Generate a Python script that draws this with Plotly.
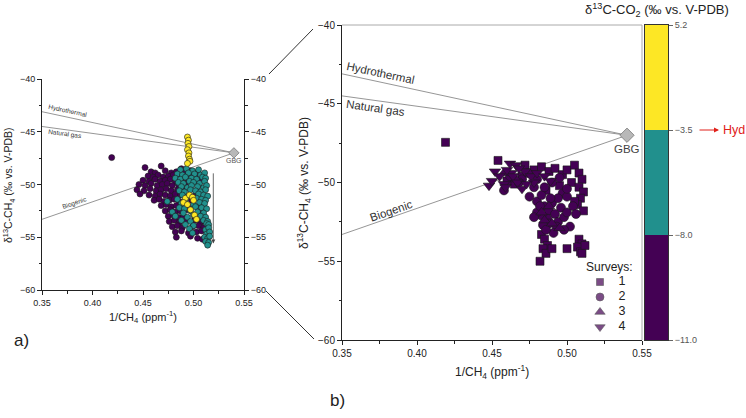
import plotly.graph_objects as go

W, H = 746, 418
FONT = "Arial, Liberation Sans, sans-serif"

# ---------------- data ----------------
# mixing lines (1/CH4, d13C-CH4) ending at the GBG background point
gbg_x = [0.54]
gbg_y = [-47.0]
hydro_x = [0.35, 0.54]
hydro_y = [-43.1, -47.0]
natgas_x = [0.35, 0.54]
natgas_y = [-44.5, -47.0]
biog_x = [0.35, 0.54]
biog_y = [-53.3, -47.0]
line_labels = ["Hydrothermal", "Natural gas", "Biogenic"]
label_x = [0.3755, 0.3725, 0.3825]
label_y = [-43.05, -45.25, -51.8]
label_angle = [12, 8, -19]

# panel a) points coloured by d13C-CO2 class
a_purple_x = [0.419, 0.452, 0.468, 0.488,
              0.458, 0.462, 0.472, 0.478, 0.483, 0.491, 0.497, 0.503,
              0.455, 0.460, 0.465, 0.470, 0.475, 0.480, 0.486, 0.493, 0.499, 0.505, 0.508,
              0.450, 0.456, 0.462, 0.467, 0.472, 0.477, 0.482, 0.488, 0.495, 0.502, 0.507,
              0.446, 0.452, 0.458, 0.464, 0.469, 0.474, 0.479, 0.485, 0.492, 0.505,
              0.444, 0.451, 0.457, 0.463, 0.468, 0.473, 0.478, 0.484, 0.489, 0.503,
              0.447, 0.456, 0.462, 0.467, 0.472, 0.477, 0.482, 0.487, 0.501,
              0.461, 0.466, 0.471, 0.476, 0.481, 0.486, 0.498,
              0.468, 0.473, 0.478, 0.483, 0.488, 0.496, 0.506,
              0.472, 0.477, 0.482, 0.487, 0.494, 0.505, 0.509,
              0.475, 0.480, 0.485, 0.490, 0.503, 0.508,
              0.476, 0.481, 0.486, 0.492, 0.501, 0.507, 0.511,
              0.479, 0.484, 0.489, 0.499, 0.505, 0.510,
              0.482, 0.488, 0.495, 0.503, 0.508,
              0.483, 0.497, 0.504, 0.509]
a_purple_y = [-47.45, -48.4, -48.25, -48.5,
              -48.8, -48.9, -48.7, -48.9, -48.8, -48.9, -48.7, -48.9,
              -49.2, -49.3, -49.1, -49.3, -49.2, -49.1, -49.3, -49.2, -49.1, -49.3, -49.2,
              -49.6, -49.7, -49.5, -49.7, -49.6, -49.5, -49.7, -49.6, -49.5, -49.7, -49.6,
              -50.0, -50.1, -49.9, -50.1, -50.0, -49.9, -50.1, -50.0, -49.9, -50.1,
              -50.5, -50.6, -50.4, -50.6, -50.5, -50.4, -50.6, -50.5, -50.4, -50.6,
              -50.9, -51.0, -51.1, -50.9, -51.0, -51.1, -50.9, -51.0, -51.1,
              -51.5, -51.4, -51.6, -51.5, -51.4, -51.6, -51.5,
              -52.0, -51.9, -52.1, -52.0, -51.9, -52.1, -52.0,
              -52.5, -52.4, -52.6, -52.5, -52.4, -52.6, -52.5,
              -53.0, -52.9, -53.1, -53.0, -52.9, -53.1,
              -53.5, -53.4, -53.6, -53.5, -53.4, -53.6, -53.5,
              -54.0, -53.9, -54.1, -54.0, -53.9, -54.1,
              -54.5, -54.4, -54.6, -54.5, -54.4,
              -55.0, -54.9, -55.1, -55.2]
a_teal_x = [0.487, 0.493, 0.499, 0.505,
            0.484, 0.489, 0.495, 0.501, 0.507, 0.511,
            0.482, 0.487, 0.492, 0.498, 0.503, 0.509, 0.512,
            0.485, 0.490, 0.496, 0.500, 0.506, 0.511,
            0.488, 0.494, 0.498, 0.504, 0.510, 0.513,
            0.486, 0.491, 0.497, 0.502, 0.507, 0.512,
            0.489, 0.495, 0.505, 0.510, 0.514,
            0.474, 0.484, 0.492, 0.503, 0.508, 0.512,
            0.488, 0.500, 0.506, 0.511,
            0.486, 0.491, 0.502, 0.508, 0.513,
            0.479, 0.490, 0.497, 0.504, 0.510,
            0.482, 0.494, 0.500, 0.507, 0.512,
            0.488, 0.497, 0.503, 0.510, 0.514,
            0.492, 0.500, 0.513, 0.515,
            0.496, 0.512, 0.515,
            0.499, 0.513, 0.516,
            0.511, 0.514, 0.516,
            0.512, 0.515, 0.514]
a_teal_y = [-48.6, -48.5, -48.7, -48.6,
            -49.0, -49.1, -48.9, -49.0, -49.1, -48.9,
            -49.4, -49.5, -49.3, -49.4, -49.5, -49.3, -49.4,
            -49.8, -49.9, -49.7, -49.8, -49.9, -49.7,
            -50.2, -50.3, -50.1, -50.2, -50.3, -50.1,
            -50.6, -50.7, -50.5, -50.6, -50.7, -50.5,
            -51.0, -51.1, -50.9, -51.0, -51.1,
            -51.6, -51.4, -51.5, -51.3, -51.4, -51.5,
            -51.8, -51.9, -51.7, -51.8,
            -52.2, -52.3, -52.1, -52.2, -52.3,
            -52.6, -52.7, -52.5, -52.6, -52.7,
            -53.0, -53.1, -52.9, -53.0, -53.1,
            -53.4, -53.5, -53.3, -53.4, -53.5,
            -53.8, -53.9, -53.7, -53.8,
            -54.2, -54.3, -54.1,
            -54.6, -54.7, -54.5,
            -55.0, -55.1, -54.9,
            -55.4, -55.5, -55.75]
a_yellow_x = [0.494, 0.495, 0.4945, 0.4955, 0.494, 0.4955, 0.495, 0.496, 0.4965, 0.494,
              0.492, 0.496, 0.499, 0.490, 0.494, 0.497, 0.501, 0.503, 0.500]
a_yellow_y = [-45.5, -45.8, -46.1, -46.4, -46.7, -47.0, -47.3, -47.6, -47.8, -48.0,
              -51.3, -51.0, -51.2, -51.7, -51.9, -52.4, -52.9, -53.3, -51.5]
arrow_x = [0.5196, 0.5196]
arrow_y = [-48.8, -55.6]

# panel b) points by survey
s1_x = [0.419, 0.454, 0.472, 0.478, 0.483, 0.488, 0.492, 0.497, 0.500, 0.505, 0.508, 0.510,
        0.503, 0.495, 0.486, 0.465, 0.470, 0.460, 0.508, 0.511, 0.509, 0.507, 0.511, 0.505,
        0.483, 0.485, 0.487, 0.484, 0.486, 0.482, 0.490, 0.500, 0.508, 0.510, 0.507, 0.509,
        0.512, 0.510]
s1_y = [-47.45, -48.6, -48.9, -49.2, -49.0, -49.3, -49.1, -49.5, -49.2, -48.9, -49.4, -49.8,
        -50.0, -50.2, -50.5, -50.1, -49.6, -49.9, -50.3, -50.6, -51.0, -51.4, -51.8, -51.2,
        -53.3, -53.6, -54.0, -54.2, -54.5, -55.0, -54.2, -54.2, -53.6, -53.9, -54.1, -54.4,
        -54.0, -54.5]
s2_x = [0.458, 0.475, 0.480, 0.483, 0.485, 0.488, 0.490, 0.492, 0.487, 0.483, 0.480, 0.478,
        0.494, 0.496, 0.498, 0.500, 0.502, 0.498, 0.493, 0.488, 0.484, 0.491, 0.497, 0.500,
        0.504, 0.506, 0.485, 0.490, 0.478, 0.470, 0.462, 0.468, 0.474, 0.480, 0.495, 0.500,
        0.494, 0.489, 0.482, 0.486]
s2_y = [-50.5, -50.9, -51.2, -50.8, -51.5, -51.8, -51.3, -52.0, -52.3, -52.1, -51.9, -52.2,
        -52.5, -51.6, -52.2, -51.9, -52.8, -53.0, -52.8, -52.6, -52.7, -53.2, -50.7, -50.9,
        -51.5, -52.0, -50.3, -50.0, -50.3, -49.8, -49.6, -50.0, -49.4, -49.8, -49.7, -50.4,
        -51.0, -51.0, -51.5, -53.0]
s3_x = [0.485, 0.490, 0.488, 0.495, 0.458, 0.466, 0.483]
s3_y = [-52.4, -52.6, -51.5, -52.9, -49.4, -49.8, -51.9]
s4_x = [0.448, 0.450, 0.452, 0.458, 0.459, 0.463, 0.464, 0.467, 0.470, 0.455, 0.460, 0.462,
        0.466, 0.472, 0.476, 0.478, 0.473, 0.468, 0.480, 0.485, 0.489]
s4_y = [-50.2, -49.9, -49.3, -50.1, -50.3, -49.4, -49.6, -50.0, -50.4, -49.6, -49.2, -48.8,
        -48.9, -49.3, -49.6, -50.0, -50.1, -49.1, -49.4, -49.6, -49.9]
survey_names = ["1", "2", "3", "4"]
survey_symbols = ["square", "circle", "triangle-up", "triangle-down"]
survey_sizes = [8, 9, 10, 10]

# colour bar classes for d13C-CO2
co2_bounds = [-11.0, -8.0, -3.5, 5.2]
co2_colors = ["#440154", "#21908d", "#fde725"]

# ---------------- helpers ----------------
def px(x):
    return x / W

def py(y):
    return 1 - y / H

PURPLE, TEAL, YELLOW = co2_colors
EDGE = "#1a1a1a"
LINEC = "#8a8a8a"

fig = go.Figure()

# mixing lines in both panels
for xa, ya in (("x", "y"), ("x2", "y3")):
    for lx, ly in ((hydro_x, hydro_y), (natgas_x, natgas_y), (biog_x, biog_y)):
        fig.add_trace(go.Scatter(x=lx, y=ly, mode="lines", xaxis=xa, yaxis=ya,
                                 line=dict(color=LINEC, width=0.9), showlegend=False,
                                 hoverinfo="skip"))

# panel a) points
for xs, ys, c in ((a_purple_x, a_purple_y, PURPLE), (a_teal_x, a_teal_y, TEAL),
                  (a_yellow_x, a_yellow_y, YELLOW)):
    fig.add_trace(go.Scatter(x=xs, y=ys, mode="markers", xaxis="x", yaxis="y",
                             marker=dict(color=c, size=6, line=dict(color=EDGE, width=0.6)),
                             showlegend=False))
fig.add_trace(go.Scatter(x=gbg_x, y=gbg_y, mode="markers", xaxis="x", yaxis="y2",
                         marker=dict(symbol="diamond", color="#b8b8b8", size=8,
                                     line=dict(color="#777", width=0.8)),
                         showlegend=False))

# panel b) points
for xs, ys, name, sym, sz in zip((s1_x, s2_x, s3_x, s4_x), (s1_y, s2_y, s3_y, s4_y),
                                 survey_names, survey_symbols, survey_sizes):
    fig.add_trace(go.Scatter(x=xs, y=ys, mode="markers", xaxis="x2", yaxis="y3", name=name,
                             showlegend=False,
                             marker=dict(symbol=sym, color=PURPLE, size=sz,
                                         line=dict(color=EDGE, width=0.6))))
fig.add_trace(go.Scatter(x=gbg_x, y=gbg_y, mode="markers", xaxis="x2", yaxis="y3",
                         marker=dict(symbol="diamond", color="#b8b8b8", size=11,
                                     line=dict(color="#777", width=0.8)),
                         showlegend=False))

# survey key (legend) on its own hidden axes
n_s = len(survey_names)
fig.add_trace(go.Scatter(x=[0] * n_s, y=list(range(n_s)), mode="markers", xaxis="x4", yaxis="y5",
                         marker=dict(symbol=survey_symbols, color=PURPLE,
                                     size=[s - 1 for s in survey_sizes],
                                     line=dict(color=EDGE, width=0.6)),
                         showlegend=False, hoverinfo="skip"))
fig.add_trace(go.Scatter(x=[1] * n_s, y=list(range(n_s)), mode="text", xaxis="x4", yaxis="y5",
                         text=survey_names, textposition="middle center",
                         textfont=dict(family=FONT, size=12.5, color="#222"),
                         showlegend=False, hoverinfo="skip"))

# colour bar as a heatmap on its own axes
fig.add_trace(go.Heatmap(x=[0], y=list(range(len(co2_colors))),
                         z=[[i] for i in range(len(co2_colors))],
                         xaxis="x3", yaxis="y4", zmin=0, zmax=len(co2_colors) - 1,
                         colorscale=[[0, PURPLE], [0.333, PURPLE], [0.334, TEAL], [0.666, TEAL],
                                     [0.667, YELLOW], [1, YELLOW]],
                         showscale=False, hoverinfo="skip"))

a_dom_x = [px(42), px(244)]
a_dom_y = [py(290), py(79)]
b_dom_x = [px(342), px(642)]
b_dom_y = [py(340), py(25)]

axc = "#222"
def xax(domain, anchor, fs):
    return dict(domain=domain, anchor=anchor, range=[0.35, 0.55], dtick=0.05, tickformat=".2f",
                showline=True, linecolor=axc, linewidth=1, ticks="outside", ticklen=4,
                tickcolor=axc, showgrid=False, zeroline=False, automargin=False,
                tickfont=dict(family=FONT, size=fs, color="#222"),
                minor=dict(ticks="outside", ticklen=2.5, dtick=0.025, tickcolor=axc))

def yax(domain, anchor, fs, **kw):
    d = dict(domain=domain, anchor=anchor, range=[-60, -40], dtick=5,
             showline=True, linecolor=axc, linewidth=1, ticks="outside", ticklen=4,
             tickcolor=axc, showgrid=False, zeroline=False, automargin=False,
             tickfont=dict(family=FONT, size=fs, color="#222"),
             minor=dict(ticks="outside", ticklen=2.5, dtick=2.5, tickcolor=axc))
    d.update(kw)
    return d

hidden = dict(visible=False, showgrid=False, zeroline=False, automargin=False)

fig.update_layout(
    width=W, height=H, margin=dict(l=0, r=0, t=0, b=0, autoexpand=False),
    paper_bgcolor="white", plot_bgcolor="rgba(0,0,0,0)",
    font=dict(family=FONT, color="#222"),
    showlegend=False,
    xaxis=xax(a_dom_x, "y", 9),
    yaxis=yax(a_dom_y, "x", 9),
    yaxis2=yax(a_dom_y, "x", 9, overlaying="y", side="right"),
    xaxis2=xax(b_dom_x, "y3", 10),
    yaxis3=yax(b_dom_y, "x2", 10),
    xaxis3=dict(domain=[px(645), px(668)], anchor="y4", showticklabels=False, ticks="",
                showline=True, mirror=True, linecolor="#333", linewidth=1, automargin=False,
                showgrid=False, zeroline=False, range=[-0.5, 0.5]),
    yaxis4=dict(domain=b_dom_y, anchor="x3", side="right", range=[-0.5, len(co2_colors) - 0.5],
                tickvals=[i - 0.5 for i in range(len(co2_bounds))],
                ticktext=[f"{v:.1f}".replace("-", "\u2212") for v in co2_bounds],
                ticks="outside", ticklen=4, tickcolor="#666", automargin=False,
                tickfont=dict(family=FONT, size=9, color="#555"),
                showline=True, mirror=True, linecolor="#333", linewidth=1,
                showgrid=False, zeroline=False),
    xaxis4=dict(domain=[px(590), px(632)], anchor="y5", range=[-0.4545, 1.4545], **hidden),
    yaxis5=dict(domain=[py(334.5), py(274.5)], anchor="x4", range=[n_s - 0.5, -0.5], **hidden),
)

shapes = [
    # main panel light frame (top / right)
    dict(type="line", xref="x2 domain", yref="y3 domain", x0=0, x1=1, y0=1, y1=1,
         line=dict(color="#aaaaaa", width=1)),
    dict(type="line", xref="x2 domain", yref="y3 domain", x0=1, x1=1, y0=0, y1=1,
         line=dict(color="#aaaaaa", width=1)),
    # zoom connectors
    dict(type="line", xref="paper", yref="paper", x0=px(269), y0=py(74), x1=px(313), y1=py(29),
         line=dict(color="#333", width=1)),
    dict(type="line", xref="paper", yref="paper", x0=px(266), y0=py(291), x1=px(314), y1=py(339),
         line=dict(color="#333", width=1)),
]

def A(**kw):
    kw.setdefault("xanchor", "center")
    kw.setdefault("yanchor", "middle")
    kw.setdefault("showarrow", False)
    return kw

ann = []
# line labels
for t, lx, ly, ang in zip(line_labels, label_x, label_y, label_angle):
    ann.append(A(x=lx, y=ly, xref="x", yref="y", text=t, textangle=ang,
                 font=dict(family=FONT, size=6.5, color="#333")))
    ann.append(A(x=lx, y=ly, xref="x2", yref="y3", text=t, textangle=ang,
                 font=dict(family=FONT, size=11.5, color="#333")))
ann.append(A(x=gbg_x[0], y=gbg_y[0] - 0.75, xref="x", yref="y", text="GBG",
             font=dict(family=FONT, size=7, color="#555")))
ann.append(A(x=gbg_x[0], y=gbg_y[0] - 0.85, xref="x2", yref="y3", text="GBG",
             font=dict(family=FONT, size=11.5, color="#444")))
# trend arrow panel a
ann.append(dict(x=arrow_x[1], y=arrow_y[1], ax=arrow_x[0], ay=arrow_y[0], xref="x", yref="y",
                axref="x", ayref="y", text="", showarrow=True, arrowhead=2, arrowsize=1,
                arrowwidth=0.8, arrowcolor="#444"))
# axis titles
ytitle = "\u03b4<sup>13</sup>C-CH<sub>4</sub> (\u2030 vs. V-PDB)"
xtitle = "1/CH<sub>4</sub> (ppm<sup>-1</sup>)"
ann.append(A(x=px(9), y=py(185), xref="paper", yref="paper", text=ytitle, textangle=-90,
             font=dict(family=FONT, size=10.5, color="#222")))
ann.append(A(x=px(143), y=py(317), xref="paper", yref="paper", text=xtitle,
             font=dict(family=FONT, size=11, color="#222")))
ann.append(A(x=px(304), y=py(183), xref="paper", yref="paper", text=ytitle, textangle=-90,
             font=dict(family=FONT, size=12, color="#222")))
ann.append(A(x=px(492), y=py(372), xref="paper", yref="paper", text=xtitle,
             font=dict(family=FONT, size=12, color="#222")))
# panel letters
ann.append(A(x=px(21), y=py(340), xref="paper", yref="paper", text="a)",
             font=dict(family=FONT, size=17, color="#222")))
ann.append(A(x=px(337), y=py(400), xref="paper", yref="paper", text="b)",
             font=dict(family=FONT, size=17, color="#222")))
# survey key title
ann.append(A(x=px(609), y=py(267), xref="paper", yref="paper", text="Surveys:",
             font=dict(family=FONT, size=12, color="#222")))
# colour bar title
ann.append(A(x=px(657), y=py(10), xref="paper", yref="paper",
             text="\u03b4<sup>13</sup>C-CO<sub>2</sub> (\u2030 vs. V-PDB)",
             font=dict(family=FONT, size=13, color="#222")))
# Hyd arrow
ann.append(dict(x=px(719), y=py(130), ax=-21, ay=0, xref="paper", yref="paper",
                text="", showarrow=True, arrowhead=2,
                arrowsize=1, arrowwidth=1, arrowcolor="#e0201a"))
ann.append(A(x=px(721), y=py(130), xref="paper", yref="paper", text="Hyd", xanchor="left",
             font=dict(family=FONT, size=12.5, color="#e0201a")))

fig.update_layout(shapes=shapes, annotations=ann)
fig.write_html("out.html")
